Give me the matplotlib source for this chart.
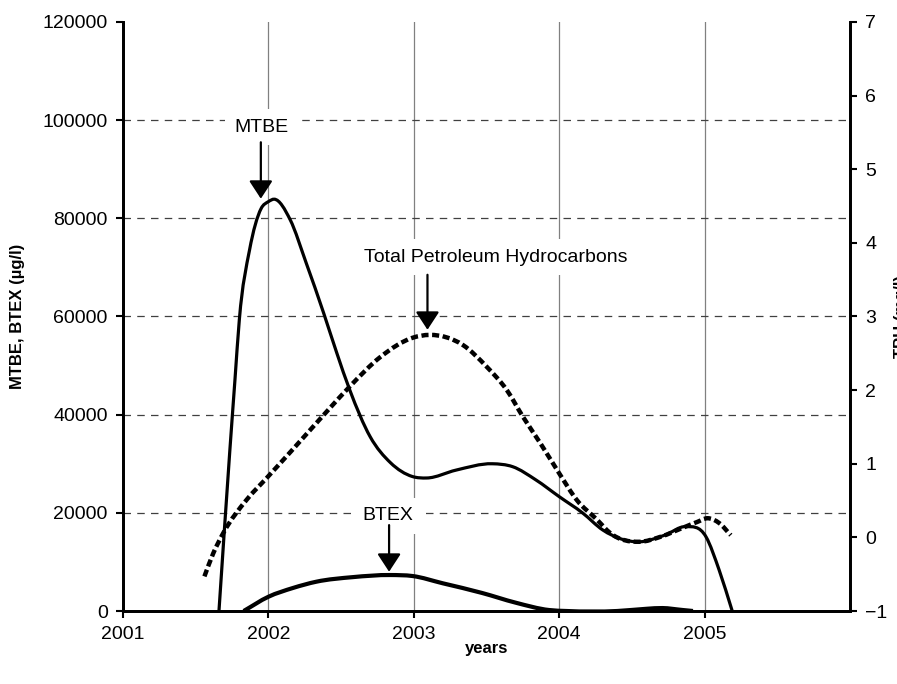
import matplotlib
matplotlib.use('Agg')
import matplotlib.pyplot as plt
import numpy as np
from matplotlib.path import Path
from matplotlib.patches import PathPatch

plt.rcParams['font.family'] = ['Liberation Sans', 'DejaVu Sans']

# MTBE (left axis, ug/l)
mtbe_year = [2001.66, 2001.735, 2001.77, 2001.80, 2001.87, 2001.95, 2002.00, 2002.04,
             2002.15, 2002.26, 2002.38, 2002.47, 2002.56, 2002.70, 2002.84, 2002.99,
             2003.09, 2003.29, 2003.54, 2003.68, 2003.84, 2004.00, 2004.16, 2004.30,
             2004.55, 2004.73, 2004.87, 2005.01, 2005.10, 2005.19]
mtbe_val = [0, 32800, 47100, 59300, 73500, 82000, 83400, 83900,
            79700, 70900, 60700, 52600, 45000, 35500, 30200, 27400,
            27100, 28700, 30000, 29400, 26700, 23300, 20000, 16500,
            14100, 15500, 17200, 15100, 8350, 0]

# BTEX (left axis, ug/l)
btex_year = [2001.83, 2002.00, 2002.17, 2002.33, 2002.58, 2002.84, 2002.99,
             2003.20, 2003.47, 2003.70, 2003.93, 2004.05, 2004.40, 2004.60, 2004.71,
             2004.85, 2004.92]
btex_val = [0, 2900, 4700, 5970, 6900, 7330, 7130,
            5640, 3670, 1700, 200, 0, 0, 450, 600,
            200, 0]

# TPH (right axis, mg/l)
tph_year = [2001.56, 2001.62, 2001.69, 2001.85, 2001.99, 2002.17, 2002.42, 2002.56,
            2002.77, 2002.99, 2003.11, 2003.34, 2003.50, 2003.64, 2003.75, 2003.87,
            2004.00, 2004.12, 2004.26, 2004.35, 2004.55, 2004.70, 2004.85, 2004.95,
            2005.02, 2005.10, 2005.18]
tph_val = [-0.53, -0.22, 0.06, 0.51, 0.81, 1.20, 1.75, 2.05,
           2.45, 2.71, 2.75, 2.61, 2.32, 2.00, 1.64, 1.28,
           0.87, 0.51, 0.24, 0.06, -0.06, 0.01, 0.13, 0.21,
           0.26, 0.195, 0.03]

x_ticks = [2001, 2002, 2003, 2004, 2005]
left_ticks = [0, 20000, 40000, 60000, 80000, 100000, 120000]
right_ticks = [-1, 0, 1, 2, 3, 4, 5, 6, 7]


def smooth_line(a, xs, ys, **kw):
    # smoothed line like excel: cubic bezier segments through the data points
    x = np.asarray(xs, float)
    y = np.asarray(ys, float)
    h = np.diff(x)
    d = np.diff(y) / h
    m = np.empty_like(y)
    m[0], m[-1] = d[0], d[-1]
    m[1:-1] = (h[:-1] * d[1:] + h[1:] * d[:-1]) / (h[:-1] + h[1:])
    verts = [(x[0], y[0])]
    codes = [Path.MOVETO]
    for i in range(len(x) - 1):
        verts += [(x[i] + h[i] / 3, y[i] + m[i] * h[i] / 3),
                  (x[i + 1] - h[i] / 3, y[i + 1] - m[i + 1] * h[i] / 3),
                  (x[i + 1], y[i + 1])]
        codes += [Path.CURVE4] * 3
    a.add_patch(PathPatch(Path(verts, codes), fill=False, **kw))


fig = plt.figure(figsize=(8.97, 6.84), dpi=100)
ax = fig.add_axes([123/897, 73/684, 727/897, 589/684])
ax2 = ax.twinx()

ax.set_xlim(2001, 2006)
ax.set_ylim(0, 120000)
ax2.set_ylim(-1, 7)
ax.set_xticks(x_ticks)
ax.set_yticks(left_ticks)
ax2.set_yticks(right_ticks)

# grid: solid grey verticals, dashed horizontals
ax.xaxis.grid(True, color='#808080', lw=0.9)
ax.yaxis.grid(True, color='#404040', lw=0.9, linestyle=(0, (6, 5)))
ax.get_xgridlines()[0].set_visible(False)
ax.get_ygridlines()[0].set_visible(False)
ax.get_ygridlines()[-1].set_visible(False)
ax.set_axisbelow(True)

for a in (ax, ax2):
    a.spines['top'].set_visible(False)
    for s in ('left', 'right', 'bottom'):
        a.spines[s].set_linewidth(2)
    a.tick_params(direction='out', length=5, width=1.5, labelsize=14, pad=6)

smooth_line(ax, mtbe_year, mtbe_val, color='black', lw=2.3, zorder=3)
smooth_line(ax, btex_year, btex_val, color='black', lw=3.0, zorder=3)
smooth_line(ax2, tph_year, tph_val, color='black', lw=3.2, linestyle=(0, (1.6, 0.8)),
            zorder=3)

# labels with arrows
box = dict(boxstyle='square,pad=0.5', fc='white', ec='none')
arrow = dict(arrowstyle='-|>,head_length=0.55,head_width=0.36', color='black',
             lw=1.6, mutation_scale=20, shrinkA=0, shrinkB=0)
ax.text(2001.955, 98600, 'MTBE', fontsize=14, ha='center', va='center', bbox=box, zorder=4)
ax.annotate('', xy=(2001.948, 84000), xytext=(2001.948, 95500), arrowprops=arrow, zorder=4)
ax.text(2003.564, 72100, 'Total Petroleum Hydrocarbons', fontsize=14, ha='center',
        va='center', bbox=box, zorder=4)
ax.annotate('', xy=(2003.094, 57300), xytext=(2003.094, 68500), arrowprops=arrow, zorder=4)
ax.text(2002.818, 19400, 'BTEX', fontsize=14, ha='center', va='center', bbox=box, zorder=4)
ax.annotate('', xy=(2002.83, 8000), xytext=(2002.83, 17500), arrowprops=arrow, zorder=4)

fig.text(17.5/897, 1 - 316.5/684, 'MTBE, BTEX (\u00b5g/l)', rotation=90, ha='center',
         va='center', fontsize=12, fontweight='bold')
fig.text(486.5/897, 1 - 648/684, 'years', ha='center', va='center', fontsize=12,
         fontweight='bold')
# right axis title is cut off at the figure edge in the original
fig.text(894/897, 1 - 316.5/684, 'TPH (mg/l)', rotation=90, ha='left', va='center',
         fontsize=12, fontweight='bold')

fig.savefig('out.png', dpi=100)
